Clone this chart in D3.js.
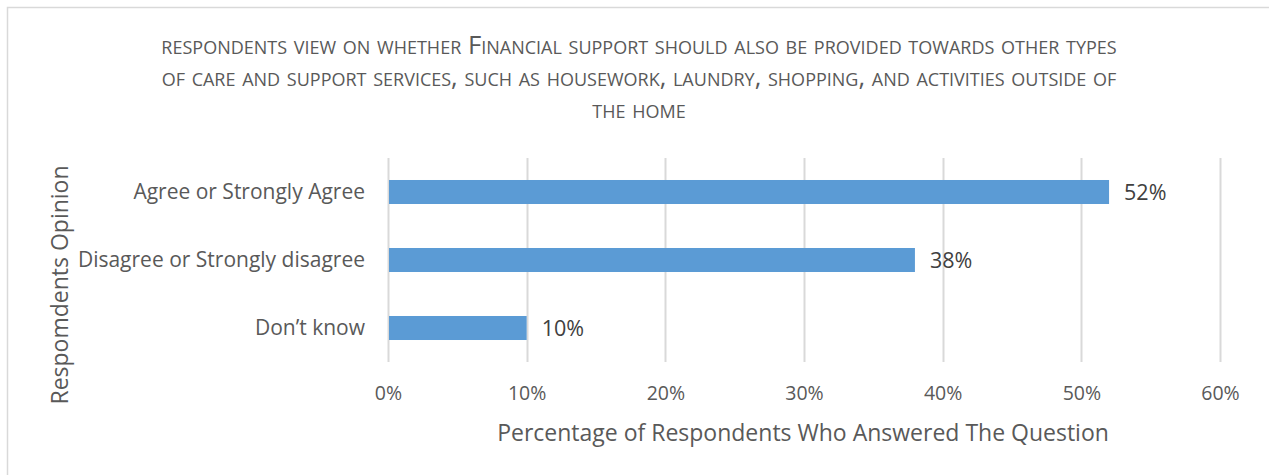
<!DOCTYPE html>
<html>
<head>
<meta charset="utf-8">
<script src="https://cdn.jsdelivr.net/npm/d3@7"></script>
<style>
  html, body { margin: 0; padding: 0; background: #fff; }
  svg { display: block; }
  text { font-family: "Open Sans", "Noto Sans", sans-serif; fill: #595959; }
</style>
</head>
<body>
<svg id="chart" width="1269" height="475"></svg>
<script>
// Survey answers, percentage of respondents
const categories = ["Agree or Strongly Agree", "Disagree or Strongly disagree", "Don\u2019t know"];
const values = [52, 38, 10];
const tickValues = [0, 10, 20, 30, 40, 50, 60];
const titleLines = [
  "respondents view on whether Financial support should also be provided towards other types",
  "of care and support services, such as housework, laundry, shopping, and activities outside of",
  "the home"
];
const xAxisTitle = "Percentage of Respondents Who Answered The Question";
const yAxisTitle = "Respomdents Opinion";

const W = 1269, H = 475;
const plot = { left: 388, right: 1220, top: 158, bottom: 362 };

const svg = d3.select("#chart");

// outer chart frame
svg.append("rect")
  .attr("x", 7.5).attr("y", 7.5)
  .attr("width", W + 10).attr("height", H + 10)
  .attr("fill", "#fff").attr("stroke", "#d9d9d9").attr("stroke-width", 1.5);

const x = d3.scaleLinear().domain([0, 60]).range([plot.left, plot.right]);
const y = d3.scaleBand().domain(categories)
  .range([plot.top, plot.bottom])
  .paddingInner(0.647).paddingOuter(0.3235);

// vertical gridlines
svg.append("g")
  .selectAll("line")
  .data(tickValues)
  .join("line")
  .attr("x1", d => Math.round(x(d)) + 0.5).attr("x2", d => Math.round(x(d)) + 0.5)
  .attr("y1", plot.top).attr("y2", plot.bottom)
  .attr("stroke", "#d9d9d9").attr("stroke-width", 2);

// bars
svg.append("g")
  .selectAll("rect")
  .data(categories)
  .join("rect")
  .attr("x", x(0) + 1)
  .attr("y", d => y(d))
  .attr("width", (d, i) => x(values[i]) - x(0) - 1)
  .attr("height", y.bandwidth())
  .attr("fill", "#5b9bd5");

// value labels
svg.append("g")
  .selectAll("text")
  .data(categories)
  .join("text")
  .attr("x", (d, i) => x(values[i]) + 15)
  .attr("y", d => y(d) + y.bandwidth() / 2)
  .attr("dy", "0.35em")
  .attr("font-size", 21.5)
  .style("fill", "#404040")
  .text((d, i) => values[i] + "%");

// category axis
const yAxis = d3.axisLeft(y).tickSize(0).tickPadding(23);
const gy = svg.append("g").attr("transform", `translate(${plot.left},0)`).call(yAxis);
gy.select(".domain").remove();
gy.selectAll("text")
  .attr("font-size", 21)
  .style("font-family", "\"Open Sans\", sans-serif")
  .style("fill", "#595959");

// value axis
const xAxis = d3.axisBottom(x).tickValues(tickValues).tickSize(0).tickPadding(24)
  .tickFormat(d => d + "%");
const gx = svg.append("g").attr("transform", `translate(0,${plot.bottom})`).call(xAxis);
gx.select(".domain").remove();
gx.selectAll("text")
  .attr("font-size", 19.5)
  .style("font-family", "\"Open Sans\", sans-serif")
  .style("fill", "#595959");

// title
svg.append("g")
  .selectAll("text")
  .data(titleLines)
  .join("text")
  .attr("x", 639)
  .attr("y", (d, i) => 54 + i * 32)
  .attr("text-anchor", "middle")
  .attr("font-size", 25.7)
  .style("font-variant", "small-caps")
  .text(d => d);

// axis titles
svg.append("text")
  .attr("x", 803).attr("y", 441)
  .attr("text-anchor", "middle")
  .attr("font-size", 23)
  .text(xAxisTitle);

svg.append("text")
  .attr("transform", "translate(68,285) rotate(-90)")
  .attr("text-anchor", "middle")
  .attr("font-size", 23)
  .text(yAxisTitle);
</script>
</body>
</html>
